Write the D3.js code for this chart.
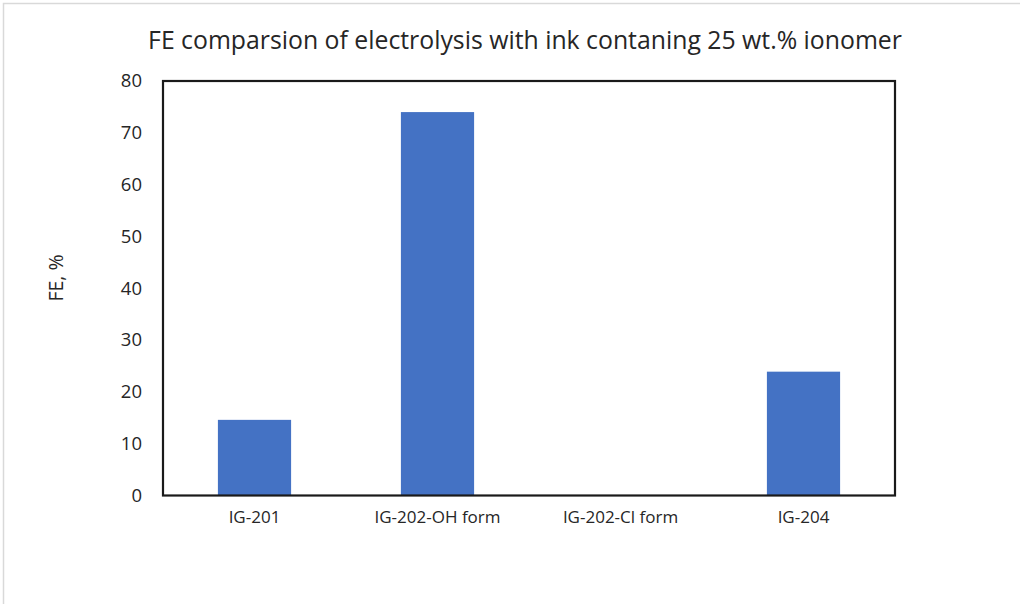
<!DOCTYPE html>
<html>
<head>
<meta charset="utf-8">
<script src="https://cdn.jsdelivr.net/npm/d3@7"></script>
<style>
  html, body { margin: 0; padding: 0; background: #fff; }
  svg { display: block; }
  text { font-family: "Open Sans", sans-serif; fill: #262626; }
</style>
</head>
<body>
<svg id="chart" width="1020" height="604"></svg>
<script>
// Faradaic efficiency per ionomer (25 wt.% ionomer ink)
const categories = ["IG-201", "IG-202-OH form", "IG-202-Cl form", "IG-204"];
const feValues = [14.6, 74.0, 0, 23.9];
const yTicks = [0, 10, 20, 30, 40, 50, 60, 70, 80];
const titleText = "FE comparsion of electrolysis with ink contaning 25 wt.% ionomer";
const yLabel = "FE, %";

const svg = d3.select("#chart");
const margin = { left: 163, right: 895, top: 81, bottom: 495.5 };

// outer chart frame
svg.append("rect")
  .attr("x", 3.5).attr("y", 3.5)
  .attr("width", 1030).attr("height", 620)
  .attr("fill", "none")
  .attr("stroke", "#d9d9d9")
  .attr("stroke-width", 1.5);

const x = d3.scaleBand()
  .domain(categories)
  .range([margin.left, margin.right])
  .paddingInner(0.6)
  .paddingOuter(0.3);

const y = d3.scaleLinear()
  .domain([0, 80])
  .range([margin.bottom, margin.top]);

// bars
svg.append("g")
  .selectAll("rect")
  .data(categories.map((c, i) => ({ c, v: feValues[i] })))
  .join("rect")
  .attr("x", d => x(d.c))
  .attr("y", d => y(d.v))
  .attr("width", x.bandwidth())
  .attr("height", d => y(0) - y(d.v))
  .attr("fill", "#4472C4");

// plot area border
svg.append("rect")
  .attr("x", margin.left).attr("y", margin.top)
  .attr("width", margin.right - margin.left)
  .attr("height", margin.bottom - margin.top)
  .attr("fill", "none")
  .attr("stroke", "#1a1a1a")
  .attr("stroke-width", 2.2);

// y axis labels
const yAxis = d3.axisLeft(y).tickValues(yTicks).tickSize(0).tickPadding(21);
const gy = svg.append("g")
  .attr("transform", `translate(${margin.left},0)`)
  .call(yAxis);
gy.select(".domain").remove();
gy.selectAll("text")
  .style("font-size", "18.5px")
  .style("font-family", "'Open Sans', sans-serif")
  .attr("fill", "#262626");

// x axis labels
const xAxis = d3.axisBottom(x).tickSize(0).tickPadding(15);
const gx = svg.append("g")
  .attr("transform", `translate(0,${margin.bottom})`)
  .call(xAxis);
gx.select(".domain").remove();
gx.selectAll("text")
  .style("font-size", "17px")
  .style("font-family", "'Open Sans', sans-serif")
  .attr("fill", "#262626");

// title
svg.append("text")
  .attr("x", 525)
  .attr("y", 49)
  .attr("text-anchor", "middle")
  .style("font-size", "24.8px")
  .text(titleText);

// y axis title
svg.append("text")
  .attr("transform", "translate(63,278) rotate(-90)")
  .attr("text-anchor", "middle")
  .style("font-size", "19.5px")
  .text(yLabel);
</script>
</body>
</html>
